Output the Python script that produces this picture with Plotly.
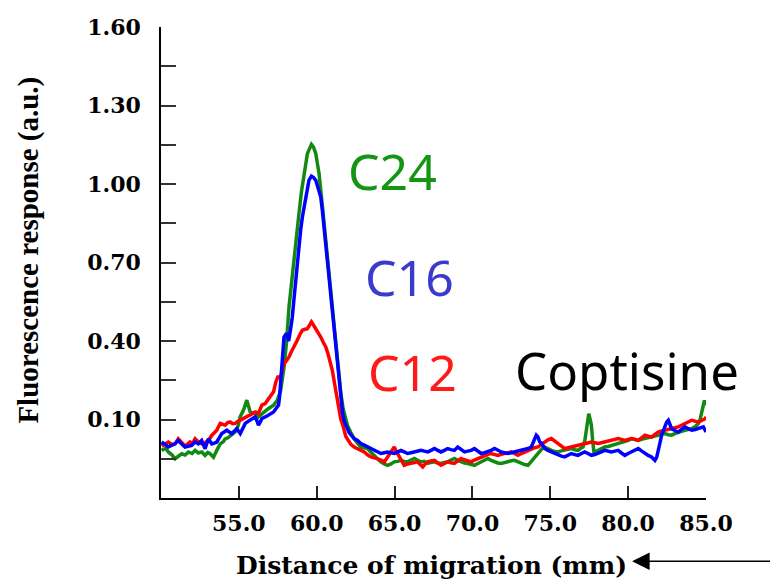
import plotly.graph_objects as go

# ---------------- data ----------------
green_x = [50.04, 50.30, 50.47, 50.70, 50.90, 51.10, 51.33, 51.55, 51.76, 52.00, 52.19, 52.40, 52.62, 52.83, 53.00,
           53.15, 53.37, 53.58, 53.80, 54.00, 54.12, 54.30, 54.44, 54.60, 54.76, 54.95, 55.08, 55.30, 55.51, 55.62,
           55.73, 55.94, 56.10, 56.26, 56.40, 56.58, 56.75, 56.91, 57.04, 57.23, 57.47, 57.68, 57.90, 58.07, 58.22,
           58.40, 58.54, 58.70, 58.86, 59.02, 59.18, 59.40, 59.66, 59.80, 59.94, 60.15, 60.37, 60.58, 60.75, 60.90,
           61.06, 61.22, 61.38, 61.55, 61.70, 61.97, 62.19, 62.40, 62.62, 62.83, 63.05, 63.26, 63.48, 63.69, 63.90,
           64.12, 64.34, 64.55, 64.77, 64.98, 65.20, 65.41, 65.62, 65.84, 66.05, 66.27, 66.48, 66.70, 66.91, 67.13,
           67.34, 67.56, 67.77, 67.98, 68.20, 68.41, 68.62, 68.84, 69.06, 69.27, 69.49, 69.70, 69.92, 70.13, 70.35,
           70.56, 70.78, 70.99, 71.20, 71.42, 71.63, 71.85, 72.06, 72.28, 72.49, 72.71, 72.92, 73.14, 73.35, 73.57,
           73.78, 73.89, 74.05, 74.21, 74.42, 74.64, 74.85, 75.07, 75.28, 75.50, 75.71, 75.93, 76.14, 76.35, 76.57,
           76.78, 76.95, 77.10, 77.22, 77.32, 77.40, 77.47, 77.56, 77.64, 77.72, 77.80, 78.07, 78.28, 78.50, 78.72,
           78.93, 79.15, 79.36, 79.57, 79.79, 80.00, 80.22, 80.43, 80.65, 80.86, 81.08, 81.29, 81.50, 81.72, 81.93,
           82.15, 82.36, 82.58, 82.79, 83.00, 83.22, 83.43, 83.65, 83.86, 84.08, 84.30, 84.51, 84.62, 84.73, 84.82,
           84.90, 85.00]
green_y = [-0.018, -0.010, -0.024, -0.035, -0.050, -0.040, -0.031, -0.036, -0.024, -0.030, -0.018, -0.028, -0.024, -0.037, -0.026,
           -0.031, -0.044, -0.018, 0.007, 0.015, 0.026, 0.030, 0.039, 0.045, 0.052, 0.075, 0.110, 0.136, 0.174, 0.150,
           0.129, 0.123, 0.126, 0.110, 0.118, 0.129, 0.135, 0.142, 0.148, 0.155, 0.173, 0.210, 0.300, 0.400, 0.530,
           0.640, 0.720, 0.810, 0.887, 0.970, 1.040, 1.116, 1.151, 1.140, 1.116, 1.040, 0.912, 0.785, 0.690, 0.594,
           0.490, 0.390, 0.290, 0.200, 0.140, 0.078, 0.050, 0.027, 0.010, -0.005, -0.008, -0.011, -0.025, -0.037, -0.050,
           -0.062, -0.070, -0.075, -0.070, -0.062, -0.060, -0.056, -0.060, -0.062, -0.055, -0.049, -0.056, -0.062, -0.060, -0.068,
           -0.064, -0.062, -0.066, -0.068, -0.064, -0.062, -0.055, -0.049, -0.056, -0.062, -0.066, -0.068, -0.072, -0.075, -0.068,
           -0.062, -0.055, -0.049, -0.056, -0.062, -0.066, -0.068, -0.064, -0.062, -0.058, -0.056, -0.062, -0.068, -0.072, -0.075,
           -0.060, -0.049, -0.040, -0.030, -0.015, -0.005, -0.012, -0.018, -0.022, -0.024, -0.020, -0.018, -0.014, -0.011, -0.016,
           -0.018, -0.010, -0.005, 0.020, 0.060, 0.110, 0.122, 0.100, 0.078, 0.020, -0.024, -0.018, -0.012, -0.005, -0.003,
           0.001, 0.004, 0.008, 0.010, 0.014, 0.020, 0.027, 0.022, 0.020, 0.024, 0.027, 0.030, 0.033, 0.036, 0.040,
           0.043, 0.046, 0.042, 0.040, 0.046, 0.052, 0.055, 0.059, 0.062, 0.065, 0.072, 0.085, 0.100, 0.129, 0.155,
           0.173, 0.154]

red_x = [50.04, 50.25, 50.47, 50.70, 50.90, 51.11, 51.33, 51.54, 51.70, 51.86, 52.02, 52.19, 52.40, 52.62, 52.83,
         53.05, 53.26, 53.42, 53.58, 53.80, 53.95, 54.12, 54.28, 54.44, 54.60, 54.76, 54.92, 55.08, 55.25, 55.41,
         55.57, 55.73, 55.90, 56.05, 56.26, 56.48, 56.69, 56.85, 57.02, 57.23, 57.36, 57.50, 57.68, 57.90, 58.06,
         58.22, 58.38, 58.54, 58.75, 58.92, 59.08, 59.25, 59.40, 59.55, 59.66, 59.80, 59.94, 60.10, 60.26, 60.42,
         60.58, 60.72, 60.85, 61.00, 61.11, 61.22, 61.33, 61.43, 61.55, 61.65, 61.76, 61.87, 62.03, 62.19, 62.40,
         62.61, 62.83, 63.05, 63.26, 63.48, 63.69, 63.90, 64.12, 64.34, 64.55, 64.77, 64.98, 65.14, 65.30, 65.46,
         65.62, 65.84, 66.05, 66.27, 66.48, 66.65, 66.81, 66.97, 67.13, 67.34, 67.56, 67.77, 67.98, 68.20, 68.41,
         68.62, 68.84, 69.06, 69.27, 69.44, 69.60, 69.76, 69.92, 70.13, 70.35, 70.56, 70.78, 70.99, 71.20, 71.42,
         71.63, 71.85, 72.06, 72.28, 72.49, 72.71, 72.92, 73.14, 73.35, 73.57, 73.78, 74.00, 74.21, 74.42, 74.64,
         74.85, 75.07, 75.28, 75.50, 75.71, 75.93, 76.14, 76.35, 76.57, 76.78, 77.00, 77.21, 77.42, 77.64, 77.85,
         78.07, 78.28, 78.50, 78.72, 78.93, 79.15, 79.36, 79.57, 79.79, 80.00, 80.22, 80.43, 80.65, 80.86, 81.08,
         81.29, 81.50, 81.72, 81.93, 82.15, 82.36, 82.58, 82.79, 83.00, 83.22, 83.43, 83.65, 83.86, 84.08, 84.30,
         84.51, 84.72, 84.94, 85.00]
red_y = [-0.001, 0.008, 0.014, 0.004, 0.007, 0.026, 0.010, -0.001, 0.006, 0.014, 0.008, 0.026, 0.015, 0.007, 0.012,
         0.020, 0.039, 0.050, 0.059, 0.085, 0.080, 0.078, 0.088, 0.091, 0.084, 0.085, 0.092, 0.098, 0.104, 0.110,
         0.113, 0.117, 0.124, 0.129, 0.123, 0.155, 0.161, 0.175, 0.190, 0.206, 0.240, 0.262, 0.262, 0.314, 0.325,
         0.339, 0.360, 0.377, 0.403, 0.425, 0.441, 0.445, 0.447, 0.462, 0.473, 0.460, 0.447, 0.430, 0.415, 0.395,
         0.377, 0.352, 0.326, 0.288, 0.250, 0.212, 0.170, 0.135, 0.100, 0.084, 0.055, 0.035, 0.020, 0.005, -0.005,
         -0.011, -0.018, -0.024, -0.035, -0.043, -0.046, -0.049, -0.055, -0.062, -0.045, -0.024, -0.005, -0.025, -0.043, -0.060,
         -0.075, -0.070, -0.068, -0.064, -0.062, -0.072, -0.081, -0.070, -0.062, -0.058, -0.056, -0.066, -0.075, -0.068, -0.062,
         -0.065, -0.068, -0.058, -0.049, -0.053, -0.056, -0.060, -0.062, -0.055, -0.049, -0.042, -0.037, -0.033, -0.030, -0.034,
         -0.037, -0.033, -0.030, -0.027, -0.024, -0.030, -0.037, -0.030, -0.024, -0.018, -0.011, -0.008, -0.005, 0.005, 0.014,
         0.022, 0.027, 0.018, 0.008, -0.002, -0.011, -0.008, -0.005, -0.002, 0.001, 0.004, 0.008, 0.011, 0.014, 0.011,
         0.008, 0.011, 0.014, 0.017, 0.020, 0.024, 0.027, 0.024, 0.020, 0.024, 0.027, 0.024, 0.020, 0.030, 0.040,
         0.036, 0.033, 0.043, 0.052, 0.056, 0.059, 0.062, 0.065, 0.068, 0.072, 0.078, 0.085, 0.091, 0.097, 0.094,
         0.090, 0.096, 0.103, 0.110]

blue_x = [50.04, 50.25, 50.47, 50.70, 50.90, 51.10, 51.33, 51.54, 51.75, 51.97, 52.18, 52.40, 52.61, 52.83, 53.04,
          53.26, 53.42, 53.58, 53.74, 53.90, 54.06, 54.23, 54.39, 54.55, 54.71, 54.87, 55.09, 55.25, 55.41, 55.57,
          55.73, 55.89, 56.05, 56.16, 56.26, 56.37, 56.48, 56.70, 56.91, 57.07, 57.23, 57.39, 57.55, 57.62, 57.68,
          57.79, 57.90, 58.07, 58.20, 58.32, 58.43, 58.54, 58.65, 58.76, 58.86, 58.97, 59.08, 59.19, 59.29, 59.40,
          59.50, 59.66, 59.80, 59.94, 60.10, 60.26, 60.37, 60.47, 60.58, 60.69, 60.80, 60.90, 61.00, 61.11, 61.22,
          61.33, 61.44, 61.55, 61.66, 61.76, 61.87, 61.97, 62.08, 62.19, 62.40, 62.62, 62.83, 63.05, 63.26, 63.48,
          63.69, 63.90, 64.12, 64.34, 64.55, 64.77, 64.98, 65.20, 65.41, 65.62, 65.84, 66.05, 66.27, 66.48, 66.70,
          66.91, 67.13, 67.34, 67.56, 67.77, 67.98, 68.20, 68.41, 68.62, 68.84, 69.06, 69.27, 69.49, 69.70, 69.92,
          70.13, 70.35, 70.56, 70.78, 70.99, 71.20, 71.42, 71.63, 71.85, 72.06, 72.28, 72.49, 72.71, 72.92, 73.14,
          73.35, 73.57, 73.78, 73.95, 74.10, 74.21, 74.32, 74.42, 74.64, 74.85, 75.07, 75.28, 75.50, 75.71, 75.93,
          76.14, 76.35, 76.57, 76.78, 77.00, 77.21, 77.42, 77.64, 77.85, 78.07, 78.28, 78.50, 78.72, 78.93, 79.15,
          79.36, 79.57, 79.79, 80.00, 80.22, 80.43, 80.65, 80.86, 81.08, 81.29, 81.50, 81.61, 81.72, 81.83, 81.93,
          82.04, 82.15, 82.26, 82.36, 82.47, 82.58, 82.69, 82.79, 83.00, 83.22, 83.43, 83.65, 83.86, 84.08, 84.30,
          84.51, 84.67, 84.83, 85.00]
blue_y = [0.014, 0.005, -0.005, 0.002, 0.007, 0.020, 0.008, -0.005, -0.002, 0.001, 0.014, 0.007, 0.020, -0.012, 0.026,
          0.007, 0.010, 0.014, 0.030, 0.046, 0.052, 0.059, 0.052, 0.046, 0.056, 0.065, 0.046, 0.066, 0.085, 0.092,
          0.098, 0.104, 0.110, 0.095, 0.078, 0.090, 0.104, 0.110, 0.117, 0.123, 0.129, 0.142, 0.155, 0.190, 0.238,
          0.330, 0.415, 0.430, 0.400, 0.445, 0.490, 0.560, 0.632, 0.700, 0.772, 0.825, 0.874, 0.915, 0.950, 0.985,
          1.014, 1.030, 1.025, 1.014, 0.985, 0.950, 0.895, 0.835, 0.765, 0.696, 0.630, 0.568, 0.505, 0.441, 0.377,
          0.314, 0.245, 0.180, 0.125, 0.095, 0.075, 0.065, 0.050, 0.040, 0.027, 0.020, 0.008, 0.002, -0.005, -0.012,
          -0.018, -0.024, -0.030, -0.027, -0.024, -0.027, -0.030, -0.024, -0.018, -0.024, -0.030, -0.027, -0.024, -0.021, -0.018,
          -0.021, -0.024, -0.018, -0.011, -0.018, -0.024, -0.018, -0.011, -0.015, -0.018, -0.005, -0.015, -0.024, -0.021, -0.018,
          -0.011, -0.021, -0.030, -0.027, -0.024, -0.018, -0.011, -0.018, -0.024, -0.027, -0.030, -0.027, -0.024, -0.021, -0.018,
          -0.015, -0.011, -0.005, 0.015, 0.040, 0.033, 0.014, 0.010, -0.011, -0.018, -0.024, -0.030, -0.037, -0.040, -0.043,
          -0.036, -0.030, -0.034, -0.037, -0.030, -0.024, -0.030, -0.037, -0.034, -0.030, -0.024, -0.018, -0.021, -0.024, -0.021,
          -0.018, -0.028, -0.037, -0.030, -0.024, -0.018, -0.011, -0.020, -0.030, -0.037, -0.043, -0.050, -0.056, -0.045, -0.024,
          0.010, 0.040, 0.060, 0.078, 0.090, 0.097, 0.080, 0.065, 0.058, 0.052, 0.062, 0.072, 0.065, 0.059, 0.062,
          0.065, 0.070, 0.072, 0.052]

y_tick_vals = [-0.20, -0.05, 0.10, 0.25, 0.40, 0.55, 0.70, 0.85, 1.00, 1.15, 1.30, 1.45, 1.60]
y_tick_text = ["", "", "0.10", "", "0.40", "", "0.70", "", "1.00", "", "1.30", "", "1.60"]
x_tick_vals = [55, 60, 65, 70, 75, 80, 85]
x_tick_text = ["55.0", "60.0", "65.0", "70.0", "75.0", "80.0", "85.0"]

series_names = ["C24", "C12", "C16"]
label_x = [64.89, 66.18, 65.99]
label_y = [1.05, 0.283, 0.643]
compound_label = "Coptisine"
compound_x = 79.92
compound_y = 0.29

# ---------------- figure ----------------
line_colors = ["#128a12", "#ff0000", "#0000ff"]
label_colors = ["#149614", "#ff1a1a", "#3a3acc"]
SERIF = "DejaVu Serif"
TIMES = "Liberation Serif"
LABEL_FONT = "Noto Sans"

fig = go.Figure()
for name, xs, ys, col in zip(series_names, [green_x, red_x, blue_x], [green_y, red_y, blue_y], line_colors):
    fig.add_trace(go.Scatter(x=xs, y=ys, mode="lines", name=name,
                             line=dict(color=col, width=3.5), showlegend=False))

for name, lx, ly, col in zip(series_names, label_x, label_y, label_colors):
    fig.add_annotation(x=lx, y=ly, xref="x", yref="y", text=name, showarrow=False,
                       font=dict(family=LABEL_FONT, size=50, color=col),
                       xanchor="center", yanchor="middle")
fig.add_annotation(x=compound_x, y=compound_y, xref="x", yref="y", text=compound_label, showarrow=False,
                   font=dict(family=LABEL_FONT, size=51, color="black"),
                   xanchor="center", yanchor="middle")

# axis titles
fig.add_annotation(x=0.496, y=-0.143, xref="paper", yref="paper",
                   text="<b>Distance of migration (mm)</b>", showarrow=False,
                   font=dict(family=SERIF, size=25, color="black"),
                   xanchor="center", yanchor="middle")
fig.add_annotation(x=-0.2434, y=0.526, xref="paper", yref="paper",
                   text="<b>Fluorescence response (a.u.)</b>", showarrow=False, textangle=-90,
                   font=dict(family=TIMES, size=29, color="black"),
                   xanchor="center", yanchor="middle")
# direction arrow
fig.add_annotation(x=0.8643, y=-0.1344, xref="paper", yref="paper", text=" ",
                   showarrow=True, ax=150, ay=0, axref="pixel", ayref="pixel",
                   arrowhead=2, arrowsize=2.2, arrowwidth=1.6, arrowcolor="black",
                   font=dict(size=2))

fig.update_xaxes(range=[50, 85], showgrid=False, zeroline=False, showline=True,
                 linecolor="black", linewidth=1.5, mirror=False,
                 ticks="inside", ticklen=12, tickwidth=1.5, tickcolor="#222",
                 tickvals=x_tick_vals, ticktext=x_tick_text, ticklabelstandoff=5,
                 tickfont=dict(family=SERIF, size=22, color="black", weight="bold"))
fig.update_yaxes(range=[-0.2, 1.6], showgrid=False, zeroline=False, showline=True,
                 linecolor="black", linewidth=1.5, mirror=False,
                 ticks="inside", ticklen=15, tickwidth=1.5, tickcolor="#333",
                 tickvals=y_tick_vals, ticktext=y_tick_text, ticklabelstandoff=14,
                 tickfont=dict(family=SERIF, size=22, color="black", weight="bold"))

fig.update_layout(width=772, height=581, autosize=False,
                  margin=dict(l=161, r=66, t=27, b=83),
                  plot_bgcolor="white", paper_bgcolor="white",
                  showlegend=False)

fig.write_html("out.html")
